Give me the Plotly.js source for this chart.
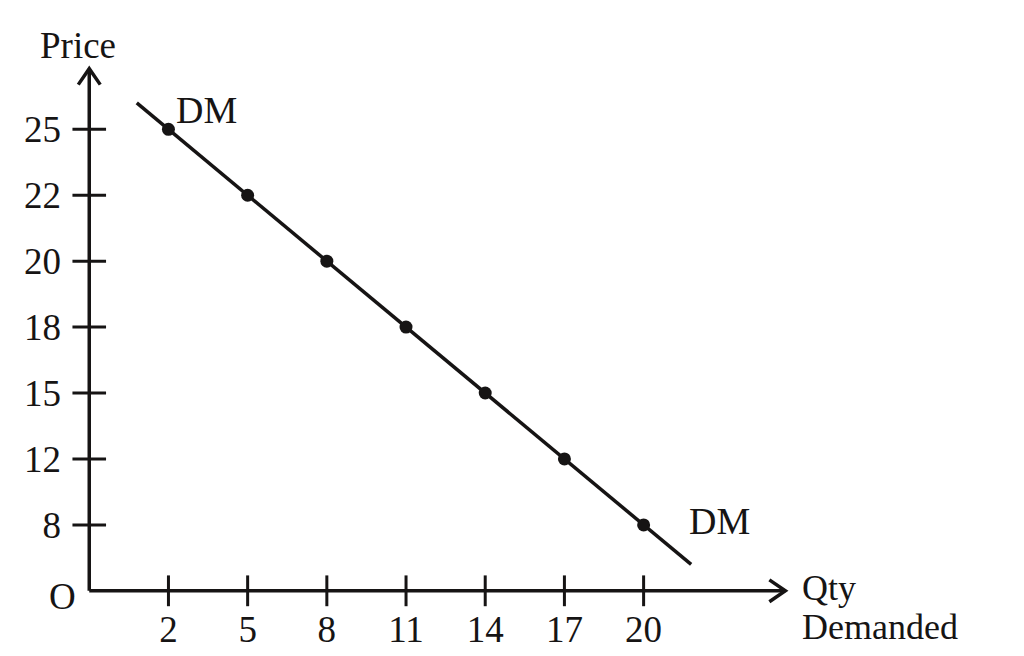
<!DOCTYPE html>
<html>
<head>
<meta charset="utf-8">
<script src="https://cdn.plot.ly/plotly-3.0.1.min.js"></script>
<style>html,body{margin:0;padding:0;background:#fff;}#chart{width:1024px;height:656px;}</style>
</head>
<body>
<div id="chart"></div>
<script>
// Demand schedule
var qtyLabels = ["2", "5", "8", "11", "14", "17", "20"];
var priceValues = [25, 22, 20, 18, 15, 12, 8];
var priceLabels = ["8", "12", "15", "18", "20", "22", "25"];

// Positions: the diagram places ticks at even spacing (ordinal scale)
var xIdx = qtyLabels.map(function (q, i) { return i + 1; });
var yIdx = priceValues.map(function (p) {
  return priceLabels.indexOf(String(p)) + 1;
});

var ink = "#161414";
var fontFam = "Liberation Serif, Times New Roman, serif";

// Extend demand line slightly beyond first and last points
var n = xIdx.length;
var extStart = 0.4, extEnd = 0.6;
var lineX = [xIdx[0] - extStart * (xIdx[1] - xIdx[0]), xIdx[n - 1] + extEnd * (xIdx[n - 1] - xIdx[n - 2])];
var lineY = [yIdx[0] - extStart * (yIdx[1] - yIdx[0]), yIdx[n - 1] + extEnd * (yIdx[n - 1] - yIdx[n - 2])];

// Scale: origin at (89, 591) px, 79.2 px per qty step, 66 px per price step
var pxX = 79.2, pxY = 66, originX = 89, originY = 591;
var xRange = [-0.18, 9], yRange = [-0.2, 8.4];
var marginL = originX + xRange[0] * pxX;
var marginR = 1024 - (originX + xRange[1] * pxX);
var marginB = 656 - (originY - yRange[0] * pxY);
var marginT = originY - yRange[1] * pxY;

var xEnd = 8.79, yEnd = 7.92;
var armBack = 16, armSide = 11;

var traces = [
  { // axes
    x: [0, xEnd, null, 0, 0], y: [0, 0, null, 0, yEnd],
    mode: "lines", line: { color: ink, width: 3.5 }, hoverinfo: "skip", cliponaxis: false
  },
  { // arrowheads
    x: [xEnd - armBack / pxX, xEnd, xEnd - armBack / pxX, null, -armSide / pxX, 0, armSide / pxX],
    y: [armSide / pxY, 0, -armSide / pxY, null, yEnd - armBack / pxY, yEnd, yEnd - armBack / pxY],
    mode: "lines", line: { color: ink, width: 3.5 }, hoverinfo: "skip", cliponaxis: false
  },
  { // x tick crosses
    x: xIdx, y: xIdx.map(function () { return 0; }),
    mode: "markers", marker: { symbol: "line-ns", size: 22, line: { color: ink, width: 3 } },
    hoverinfo: "skip", cliponaxis: false
  },
  { // y tick crosses
    x: priceLabels.map(function () { return 0; }), y: priceLabels.map(function (p, i) { return i + 1; }),
    mode: "markers", marker: { symbol: "line-ew", size: 24, line: { color: ink, width: 3 } },
    hoverinfo: "skip", cliponaxis: false
  },
  { // demand line
    x: lineX, y: lineY, mode: "lines", line: { color: ink, width: 3.5 }, hoverinfo: "skip", cliponaxis: false
  },
  { // demand points
    x: xIdx, y: yIdx, mode: "markers",
    marker: { color: ink, size: 13 }, cliponaxis: false,
    text: qtyLabels.map(function (q, i) { return "Qty " + q + ", Price " + priceValues[i]; }),
    hoverinfo: "text"
  }
];

var layout = {
  width: 1024, height: 656,
  margin: { l: marginL, r: marginR, t: marginT, b: marginB },
  paper_bgcolor: "#ffffff", plot_bgcolor: "#ffffff",
  showlegend: false,
  font: { family: fontFam, color: ink, size: 36 },
  xaxis: {
    range: xRange, showgrid: false, zeroline: false, showline: false,
    tickvals: xIdx, ticktext: qtyLabels, ticks: "", ticklabelstandoff: 0,
    tickfont: { family: fontFam, size: 37, color: ink }, fixedrange: true
  },
  yaxis: {
    range: yRange, showgrid: false, zeroline: false, showline: false,
    tickvals: priceLabels.map(function (p, i) { return i + 1; }), ticktext: priceLabels,
    ticks: "", ticklabelstandoff: 13,
    tickfont: { family: fontFam, size: 37, color: ink }, fixedrange: true
  },
  annotations: [
    { text: "Price", x: 0, y: 8.27, xref: "x", yref: "y", xshift: -11, showarrow: false, font: { size: 37 } },
    { text: "O", x: 0, y: 0, xref: "x", yref: "y", xshift: -27, yshift: -6, showarrow: false, font: { size: 37 } },
    { text: "DM", x: 1.48, y: 7.3, xref: "x", yref: "y", showarrow: false, font: { size: 38 } },
    { text: "DM", x: 7.96, y: 1.06, xref: "x", yref: "y", showarrow: false, font: { size: 38 } },
    { text: "Qty", x: 8.98, y: 0.05, xref: "x", yref: "y", xanchor: "left", showarrow: false, font: { size: 36 } },
    { text: "Demanded", x: 9, y: 0, xref: "x", yref: "y", xanchor: "left", xshift: -2, yshift: -36, showarrow: false, font: { size: 36 } }
  ]
};

Plotly.newPlot("chart", traces, layout, { displayModeBar: false, staticPlot: true });
</script>
</body>
</html>
